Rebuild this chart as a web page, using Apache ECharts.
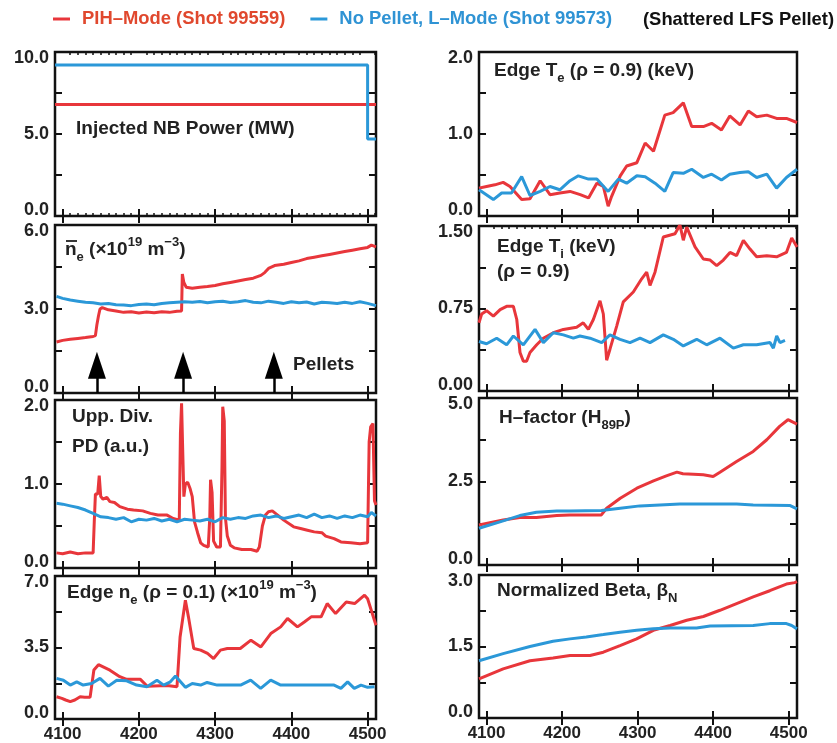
<!DOCTYPE html>
<html>
<head>
<meta charset="utf-8">
<script src="https://cdn.jsdelivr.net/npm/echarts@6/dist/echarts.min.js"></script>
<style>html,body{margin:0;padding:0;background:#fff}#c{width:837px;height:743px}</style>
</head>
<body>
<div id="c"></div>
<script>
// ---------------- DATA ----------------
const RED_NAME = 'PIH–Mode (Shot 99559)';
const BLUE_NAME = 'No Pellet, L–Mode (Shot 99573)';
const xTicks = [4100, 4200, 4300, 4400, 4500];
const pelletTimes = [4145, 4258, 4377];

const nbRed = [[4090,6.8],[4511,6.8]];
const nbBlue = [[4090,9.2],[4500,9.2],[4500,4.7],[4511,4.7]];

const neRed = [[4092,1.82],[4100,1.88],[4110,1.92],[4120,1.95],[4130,1.98],[4140,2.02],[4143,2.05],[4145,2.45],[4147,2.75],[4149,3.0],[4152,3.05],[4160,2.97],[4170,2.93],[4180,2.88],[4190,2.90],[4200,2.86],[4210,2.89],[4220,2.87],[4230,2.90],[4240,2.88],[4250,2.92],[4256,2.93],[4257,4.25],[4259,3.95],[4262,3.78],[4270,3.74],[4280,3.78],[4290,3.80],[4300,3.84],[4310,3.90],[4320,3.95],[4330,4.00],[4340,4.05],[4350,4.10],[4360,4.20],[4365,4.30],[4370,4.45],[4378,4.55],[4390,4.60],[4400,4.66],[4410,4.72],[4420,4.80],[4430,4.85],[4440,4.90],[4450,4.95],[4460,5.00],[4470,5.05],[4480,5.10],[4490,5.15],[4500,5.20],[4505,5.28],[4511,5.22]];
const neBlue = [[4092,3.45],[4100,3.38],[4110,3.32],[4120,3.28],[4130,3.24],[4140,3.22],[4150,3.18],[4160,3.20],[4170,3.15],[4180,3.14],[4190,3.12],[4200,3.16],[4210,3.18],[4220,3.15],[4230,3.20],[4240,3.22],[4250,3.24],[4260,3.26],[4270,3.24],[4280,3.27],[4290,3.22],[4300,3.26],[4310,3.28],[4320,3.23],[4330,3.26],[4340,3.30],[4350,3.24],[4360,3.22],[4370,3.28],[4380,3.24],[4390,3.20],[4400,3.26],[4410,3.22],[4420,3.25],[4430,3.18],[4440,3.24],[4450,3.22],[4460,3.20],[4470,3.24],[4480,3.20],[4490,3.26],[4500,3.20],[4511,3.12]];

const pdRed = [[4092,0.18],[4100,0.17],[4110,0.19],[4120,0.17],[4130,0.18],[4140,0.18],[4141.5,0.55],[4143,0.88],[4146,0.88],[4148,1.1],[4150,0.85],[4153,0.82],[4158,0.84],[4162,0.79],[4168,0.78],[4175,0.73],[4185,0.70],[4193,0.69],[4205,0.68],[4215,0.65],[4225,0.63],[4237,0.63],[4245,0.59],[4253,0.57],[4254.5,1.6],[4256,1.96],[4257.5,1.4],[4259,0.85],[4261,1.0],[4264,1.02],[4267,0.95],[4270,0.85],[4273,0.55],[4277,0.42],[4281,0.30],[4285,0.27],[4291,0.25],[4293,0.6],[4294,1.05],[4296,0.9],[4298,0.32],[4302,0.25],[4307,0.25],[4309,1.2],[4310,1.92],[4312,1.75],[4313.5,0.6],[4316,0.38],[4320,0.27],[4325,0.24],[4335,0.22],[4347,0.22],[4355,0.2],[4358,0.25],[4362,0.5],[4366,0.63],[4370,0.67],[4375,0.68],[4382,0.63],[4390,0.57],[4403,0.49],[4412,0.47],[4421,0.45],[4430,0.43],[4440,0.42],[4445,0.38],[4456,0.35],[4465,0.31],[4478,0.30],[4490,0.29],[4500,0.30],[4502,1.5],[4504,1.68],[4507,1.72],[4509,0.8],[4511,0.75]];
const pdBlue = [[4092,0.77],[4100,0.76],[4110,0.74],[4120,0.72],[4130,0.69],[4140,0.65],[4150,0.61],[4160,0.60],[4170,0.58],[4180,0.60],[4190,0.55],[4200,0.58],[4210,0.57],[4220,0.59],[4230,0.56],[4240,0.58],[4250,0.55],[4260,0.58],[4270,0.57],[4280,0.56],[4290,0.58],[4300,0.55],[4310,0.60],[4320,0.58],[4330,0.60],[4340,0.59],[4350,0.62],[4360,0.63],[4370,0.60],[4380,0.62],[4390,0.59],[4400,0.61],[4410,0.63],[4420,0.60],[4430,0.64],[4440,0.60],[4450,0.62],[4460,0.59],[4470,0.62],[4480,0.60],[4490,0.63],[4500,0.61],[4505,0.66],[4511,0.62]];

const edgeNeRed = [[4092,1.09],[4099,1.01],[4104,0.93],[4110,0.85],[4116,0.93],[4123,1.09],[4129,1.06],[4136,1.06],[4141,2.4],[4147,2.66],[4162,2.39],[4175,2.07],[4184,1.94],[4202,1.94],[4211,1.6],[4237,1.64],[4250,1.58],[4254,4.0],[4261,5.81],[4265,5.0],[4272,3.45],[4281,3.37],[4290,3.21],[4298,2.96],[4307,3.37],[4316,3.45],[4333,3.45],[4347,3.86],[4360,3.53],[4373,4.18],[4386,4.51],[4395,4.92],[4408,4.51],[4417,4.75],[4426,5.0],[4439,5.0],[4447,5.65],[4458,5.16],[4472,5.73],[4483,5.65],[4496,6.06],[4500,5.89],[4511,4.59]];
const edgeNeBlue = [[4092,1.99],[4101,1.90],[4110,1.66],[4118.5,1.82],[4127,1.66],[4138,1.74],[4149,1.99],[4160,1.61],[4171,1.90],[4184,1.87],[4197,1.66],[4210.6,1.58],[4223.7,1.90],[4232.5,1.66],[4241.3,1.82],[4248,2.10],[4261,1.55],[4270,1.74],[4281,1.66],[4289.5,1.79],[4302.7,1.66],[4324.6,1.66],[4333.4,1.66],[4346.6,1.90],[4359.7,1.50],[4372.9,1.90],[4386,1.66],[4403.6,1.66],[4421,1.66],[4438.7,1.66],[4456,1.66],[4465,1.50],[4473.8,1.82],[4482.5,1.50],[4491.3,1.66],[4500,1.55],[4509,1.58]];

const teRed = [[4090,0.34],[4100,0.36],[4111,0.38],[4122,0.41],[4131,0.36],[4146.5,0.20],[4157.5,0.21],[4171,0.43],[4184,0.26],[4197,0.28],[4210.5,0.30],[4224,0.26],[4235,0.22],[4246,0.40],[4254.6,0.36],[4261,0.12],[4265.6,0.24],[4277,0.49],[4285.5,0.61],[4299,0.65],[4310,0.89],[4321,0.79],[4336,1.23],[4347,1.26],[4360.5,1.38],[4371.6,1.09],[4387,1.09],[4398,1.13],[4411,1.05],[4422,1.22],[4435.6,1.11],[4446.6,1.28],[4457.6,1.21],[4471,1.23],[4484,1.19],[4497,1.19],[4511,1.14]];
const teBlue = [[4090,0.32],[4109,0.20],[4120,0.28],[4133,0.28],[4146.5,0.48],[4157.5,0.25],[4171,0.30],[4184,0.36],[4197,0.32],[4210.5,0.43],[4221.5,0.49],[4235,0.45],[4246,0.45],[4261,0.30],[4274.5,0.45],[4285.5,0.40],[4299,0.49],[4310,0.48],[4323,0.40],[4336,0.30],[4347,0.53],[4360.5,0.52],[4371.6,0.57],[4387,0.47],[4398,0.51],[4411,0.44],[4422,0.51],[4435.6,0.53],[4446.6,0.54],[4457.6,0.47],[4471,0.51],[4484,0.34],[4497,0.47],[4511,0.57]];

const tiRed = [[4090,0.62],[4093.5,0.70],[4100,0.73],[4109,0.68],[4118,0.74],[4126.6,0.77],[4135.5,0.77],[4140,0.65],[4144.3,0.35],[4148.7,0.27],[4153,0.27],[4157.5,0.35],[4166.4,0.42],[4175,0.48],[4188.4,0.53],[4201.7,0.56],[4219.3,0.58],[4228,0.62],[4234.8,0.56],[4241.4,0.65],[4250.2,0.82],[4254.6,0.70],[4259,0.28],[4263.4,0.38],[4272.3,0.59],[4281,0.81],[4294.3,0.90],[4305.4,1.02],[4312,1.08],[4316.4,0.96],[4323,1.08],[4334,1.40],[4349.5,1.43],[4356,1.51],[4360.5,1.37],[4365,1.49],[4376,1.31],[4387,1.20],[4396,1.19],[4404.7,1.14],[4413.5,1.19],[4422.3,1.26],[4431,1.23],[4440,1.37],[4448.8,1.29],[4457.6,1.22],[4471,1.23],[4484,1.22],[4497,1.26],[4504,1.39],[4511,1.31]];
const tiBlue = [[4090,0.45],[4100,0.43],[4113.4,0.48],[4126.6,0.42],[4135.5,0.50],[4148.7,0.42],[4164.2,0.56],[4175.2,0.44],[4188.4,0.53],[4201.7,0.51],[4214.9,0.48],[4223.7,0.50],[4237,0.48],[4252.4,0.44],[4263.4,0.51],[4276.7,0.47],[4289.9,0.44],[4303.2,0.48],[4316.4,0.44],[4334,0.51],[4347.3,0.47],[4360.5,0.41],[4378.2,0.47],[4391.4,0.42],[4409.1,0.48],[4426.7,0.39],[4440,0.42],[4457.6,0.42],[4475.3,0.44],[4479.7,0.39],[4484.1,0.50],[4488.5,0.44],[4495.1,0.46]];

const hRed = [[4090,1.2],[4122,1.35],[4144,1.42],[4166,1.42],[4193,1.48],[4210,1.50],[4252,1.50],[4259,1.70],[4277,2.0],[4299,2.30],[4321,2.52],[4338,2.67],[4352,2.78],[4360,2.73],[4374,2.72],[4387,2.70],[4400,2.65],[4409,2.78],[4431,3.10],[4453,3.40],[4471,3.75],[4488,4.15],[4499,4.35],[4511,4.22]];
const hBlue = [[4090,1.10],[4122,1.32],[4144,1.48],[4166,1.58],[4193,1.62],[4210,1.62],[4252,1.63],[4277,1.70],[4303,1.77],[4356,1.83],[4431,1.83],[4453,1.80],[4502,1.78],[4511,1.68]];

const betaRed = [[4090,0.82],[4122,1.03],[4157.5,1.20],[4188,1.26],[4210.5,1.31],[4237,1.31],[4254.6,1.38],[4276.7,1.52],[4298.7,1.66],[4320.8,1.84],[4343,1.94],[4365,2.05],[4387,2.13],[4409,2.26],[4431,2.40],[4453,2.54],[4475,2.67],[4497,2.81],[4508,2.84],[4511,2.86]];
const betaBlue = [[4090,1.20],[4122,1.35],[4157.5,1.50],[4188,1.61],[4210.5,1.66],[4232,1.70],[4254.6,1.75],[4276.7,1.80],[4298.7,1.84],[4320.8,1.87],[4343,1.89],[4378,1.89],[4396,1.93],[4453,1.94],[4475,1.98],[4497,1.98],[4504,1.94],[4511,1.87]];

// y-axis ranges and labelled ticks per panel
const yMax = [10, 6, 2, 7, 2, 1.5, 5, 3];
const yStep = [2.5, 1.5, 0.5, 1.75, 0.5, 0.375, 1.25, 0.75];
const yLabelVals = [[0,5,10],[0,3,6],[0,1,2],[0,3.5,7],[0,1,2],[0,0.75,1.5],[0,2.5,5],[0,1.5,3]];
const yDec = [1,1,1,1,1,2,1,1];
const redData = [nbRed, neRed, pdRed, edgeNeRed, teRed, tiRed, hRed, betaRed];
const blueData = [nbBlue, neBlue, pdBlue, edgeNeBlue, teBlue, tiBlue, hBlue, betaBlue];

// ---------------- LAYOUT / STYLE ----------------
const XMIN = 4090, XMAX = 4511;
const RED = '#e8363b', BLUE = '#2b98d8';
const FONT = '"Liberation Sans", Arial, Helvetica, sans-serif';
const INK = '#222';
const gridBoxes = [
  {left:55, top:52, width:321, height:164},
  {left:55, top:225, width:321, height:168},
  {left:55, top:400, width:321, height:168},
  {left:55, top:576, width:321, height:143},
  {left:479, top:52, width:318, height:164},
  {left:479, top:226, width:318, height:165},
  {left:479, top:398, width:318, height:167},
  {left:479, top:575, width:318, height:143}
];
const bottomRow = [false,false,false,true,false,false,false,true];

const minorTicks = [];
for (let v = 4090; v <= 4510; v += 10) if (v % 100 !== 0) minorTicks.push(v);

const grids = [], xAxes = [], yAxes = [], series = [];
const tickStyle = {color:'#111', width:2};

gridBoxes.forEach((g, i) => {
  grids.push(Object.assign({show:true, borderColor:'#111', borderWidth:2.5, containLabel:false}, g));
  xAxes.push({type:'value', gridIndex:i, position:'bottom', min:XMIN, max:XMAX,
    splitLine:{show:false}, axisLine:{show:false},
    axisTick:{show:true, inside:true, length:7, customValues:xTicks, lineStyle:tickStyle},
    axisLabel:{show:bottomRow[i], customValues:xTicks, margin:7, fontSize:17, fontWeight:'bold', color:INK, fontFamily:FONT,
      formatter: v => String(Math.round(v))}});
  xAxes.push({type:'value', gridIndex:i, position:'top', min:XMIN, max:XMAX,
    splitLine:{show:false}, axisLine:{show:false},
    axisTick:{show:true, inside:true, length:7, customValues:xTicks, lineStyle:tickStyle},
    axisLabel:{show:false}});
  const labs = yLabelVals[i], dec = yDec[i];
  yAxes.push({type:'value', gridIndex:i, position:'left', min:0, max:yMax[i], interval:yStep[i],
    splitLine:{show:false}, axisLine:{show:false},
    axisTick:{show:true, inside:true, length:7, lineStyle:tickStyle},
    axisLabel:{show:true, margin:6, fontSize:18, lineHeight:12, fontWeight:'bold', color:INK, fontFamily:FONT,
      verticalAlignMinLabel:'bottom', verticalAlignMaxLabel:'top',
      formatter: v => labs.some(l => Math.abs(l - v) < 1e-6) ? v.toFixed(dec) : ''}});
  yAxes.push({type:'value', gridIndex:i, position:'right', min:0, max:yMax[i], interval:yStep[i],
    splitLine:{show:false}, axisLine:{show:false},
    axisTick:{show:true, inside:true, length:7, lineStyle:tickStyle},
    axisLabel:{show:false}});
  series.push({type:'line', name:RED_NAME, xAxisIndex:2*i, yAxisIndex:2*i, data:redData[i],
    symbol:'none', showSymbol:false, lineStyle:{color:RED, width:3}, itemStyle:{color:RED}, z:2});
  series.push({type:'line', name:BLUE_NAME, xAxisIndex:2*i, yAxisIndex:2*i, data:blueData[i],
    symbol:'none', showSymbol:false, lineStyle:{color:BLUE, width:3}, itemStyle:{color:BLUE}, z:3});
});

// minor ticks (panel 1 top & bottom, Ti panel top)
[[0,'top'],[0,'bottom'],[5,'top']].forEach(([gi,pos]) => {
  xAxes.push({type:'value', gridIndex:gi, position:pos, min:XMIN, max:XMAX,
    splitLine:{show:false}, axisLine:{show:false},
    axisTick:{show:true, inside:true, length:3, customValues:minorTicks, lineStyle:{color:'#111', width:1.5}},
    axisLabel:{show:false}});
});

// pellet arrows in the line-averaged density panel
series.push({type:'line', name:'pellets', xAxisIndex:2, yAxisIndex:2, data:[], z:4,
  markLine:{silent:true, animation:false, label:{show:false},
    lineStyle:{color:'#000', width:2.5, type:'solid'},
    emphasis:{disabled:true},
    data: pelletTimes.map(t => [
      {coord:[t,0], symbol:'none'},
      {coord:[t,0.99], symbol:'triangle', symbolSize:[18,27]}
    ])}});

const rich = {
  m:{fontSize:19, fontWeight:'bold', fontFamily:FONT, fill:INK, lineHeight:28},
  b:{fontSize:13, fontWeight:'bold', fontFamily:FONT, fill:INK, lineHeight:13, verticalAlign:'bottom'},
  p:{fontSize:13, fontWeight:'bold', fontFamily:FONT, fill:INK, lineHeight:13, verticalAlign:'top'}
};
function label(x, y, text) {
  return {type:'text', x:x, y:y, z:10, silent:true,
    style:{text:text, rich:rich, align:'left', verticalAlign:'middle', fill:INK,
      font:'bold 19px ' + FONT}};
}

const graphics = [
  label(76, 129, '{m|Injected NB Power (MW)}'),
  label(65, 250, '{m|n}{b|e}{m| (×10}{p|19}{m| m}{p|−3}{m|)}'),
  {type:'line', z:10, silent:true, shape:{x1:66, y1:241, x2:77, y2:241}, style:{stroke:INK, lineWidth:1.8}},
  label(293, 365, '{m|Pellets}'),
  label(72, 417, '{m|Upp. Div.}'),
  label(72, 447, '{m|PD (a.u.)}'),
  label(67, 593, '{m|Edge n}{b|e}{m| (ρ = 0.1) (×10}{p|19}{m| m}{p|−3}{m|)}'),
  label(494, 71, '{m|Edge T}{b|e}{m| (ρ = 0.9) (keV)}'),
  label(497, 247, '{m|Edge T}{b|i}{m| (keV)}'),
  label(497, 272, '{m|(ρ = 0.9)}'),
  label(499, 418, '{m|H–factor (H}{b|89P}{m|)}'),
  label(497, 591, '{m|Normalized Beta, β}{b|N}'),
  {type:'text', x:643, y:20, z:10, silent:true,
    style:{text:'(Shattered LFS Pellet)', align:'left', verticalAlign:'middle', fill:'#111',
      font:'bold 18.4px ' + FONT}}
];

const option = {
  animation:false,
  backgroundColor:'#fff',
  legend:{
    left:53, top:10, padding:0, icon:'rect', itemWidth:17, itemHeight:3, itemGap:25, selectedMode:false,
    textStyle:{fontSize:18.4, fontWeight:'bold', fontFamily:FONT, padding:[0,0,0,7]},
    data:[
      {name:RED_NAME, textStyle:{color:'#e0482e'}},
      {name:BLUE_NAME, textStyle:{color:'#2f93d4'}}
    ]
  },
  grid:grids, xAxis:xAxes, yAxis:yAxes, series:series, graphic:graphics
};
const chart = echarts.init(document.getElementById('c'), null, {renderer:'canvas'});
chart.setOption(option);
</script>
</body>
</html>
